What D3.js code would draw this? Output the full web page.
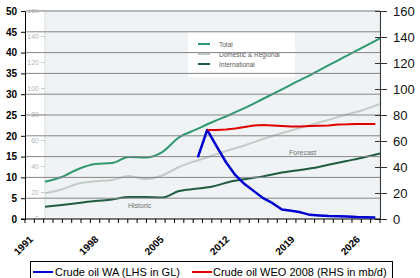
<!DOCTYPE html>
<html>
<head>
<meta charset="utf-8">
<script src="https://cdn.jsdelivr.net/npm/d3@7"></script>
<style>
  body { margin: 0; background: #fff; }
  svg { display: block; font-family: "Liberation Sans", Arial, sans-serif; }
</style>
</head>
<body>
<script>
// categories of the excel chart
var years = [1991, 1992, 1993, 1994, 1995, 1996, 1997, 1998, 1999, 2000,
  2001, 2002, 2003, 2004, 2005, 2006, 2007, 2008, 2009, 2010,
  2011, 2012, 2013, 2014, 2015, 2016, 2017, 2018, 2019, 2020,
  2021, 2022, 2023, 2024, 2025, 2026, 2027, 2028];
var labelYears = [1991, 1998, 2005, 2012, 2019, 2026];

// crude oil WA (LHS, GL)
var waYears = [2009, 2010, 2011, 2012, 2013, 2014, 2015, 2016, 2017, 2018,
  2019, 2020, 2021, 2022, 2023, 2024, 2025, 2026, 2027, 2028];
var waValues = [14.8, 21.4, 17.5, 13.7, 10.6, 8.4, 6.7, 5.0, 3.8, 2.3,
  2.0, 1.6, 1.0, 0.85, 0.7, 0.65, 0.6, 0.5, 0.45, 0.35];

// crude oil WEO 2008 (RHS, mb/d)
var weoYears = [2010, 2011, 2012, 2013, 2014, 2015, 2016, 2017, 2018, 2019,
  2020, 2021, 2022, 2023, 2024, 2025, 2026, 2027, 2028];
var weoValues = [68.5, 68.5, 68.8, 69.6, 70.8, 71.9, 72.3, 71.9, 71.5, 71.2,
  71.2, 71.5, 71.8, 71.9, 72.7, 72.8, 73.1, 73.1, 73.1];

var leftTicks = [0, 5, 10, 15, 20, 25, 30, 35, 40, 45, 50];
var rightTicks = [0, 20, 40, 60, 80, 100, 120, 140, 160];

// background picture (passenger chart)
var bgYears = [1990, 1992, 1994, 1996, 1998, 2000, 2002, 2004, 2006, 2008,
  2010, 2012, 2014, 2016, 2018, 2020, 2022, 2024, 2026, 2028, 2030];
var totalValues = [28.7, 32.3, 38.5, 42.3, 43.1, 47.7, 47.3, 51.5, 62.8, 68.7,
  74.6, 80, 85.8, 92.3, 98.8, 105.4, 111.9, 118.8, 125.4, 132.3, 139];
var domesticValues = [19.8, 22.7, 27.3, 29, 30, 33.1, 30.8, 33.5, 40, 44.6,
  48.8, 53.1, 56.9, 61.5, 65.5, 69.2, 72.9, 76.6, 80.4, 83.9, 88.5];
var internationalValues = [9.5, 10.8, 12.3, 13.8, 15, 16.9, 16.9, 16.5, 21.5, 23.2,
  25, 28.5, 30.8, 32.8, 35.4, 37.3, 39.2, 41.9, 44.6, 47.3, 50.4];
var bgLegend = ["Total", "Domestic & Regional", "International"];
var bgColors = ["#2f9970", "#c2ccc6", "#1f5c42"];

var w = 420, h = 278;
var svg = d3.select("body").append("svg").attr("width", w).attr("height", h);

var x = d3.scaleBand().domain(years).range([25, 380]).padding(0);
var yL = d3.scaleLinear().domain([0, 50]).range([219, 11]);
var yR = d3.scaleLinear().domain([0, 160]).range([219, 11]);
var xBg = d3.scaleLinear().domain([1990, 2030]).range([45, 380]);
function cx(d) { return x(d) + x.bandwidth() / 2; }

// background picture
svg.append("clipPath").attr("id", "bgclip")
  .append("rect").attr("x", 25).attr("y", 9).attr("width", 355).attr("height", 210);
var bg = svg.append("g").attr("clip-path", "url(#bgclip)");
bg.append("rect").attr("x", 45).attr("y", 11).attr("width", 335).attr("height", 208)
  .attr("fill", "#eff3f5").attr("stroke", "#cfd5d8").attr("stroke-width", 0.8);
bg.append("rect").attr("x", 188).attr("y", 32).attr("width", 107).attr("height", 45)
  .attr("fill", "#fff");

var innerAxis = d3.axisLeft(yR).tickValues(rightTicks).tickSize(4).tickPadding(2);
var ia = bg.append("g").attr("transform", "translate(45,-1)").call(innerAxis);
ia.select(".domain").remove();
ia.selectAll("line").attr("stroke", "#c8cccf");
ia.selectAll("text").attr("fill", "#b3b6b8").attr("font-size", 7).attr("font-family", "Liberation Sans, Arial");

var bgSeries = [totalValues, domesticValues, internationalValues];
var bgLine = d3.line().x(function (d, i) { return xBg(bgYears[i]); }).y(function (d) { return yR(d); })
  .curve(d3.curveMonotoneX);
bg.selectAll("path.bg").data(bgSeries).enter().append("path")
  .attr("class", "bg")
  .attr("d", bgLine)
  .attr("fill", "none")
  .attr("stroke", function (d, i) { return bgColors[i]; })
  .attr("stroke-width", 2);

bgLegend.forEach(function (t, i) {
  bg.append("line").attr("x1", 198).attr("x2", 210)
    .attr("y1", 44 + i * 10).attr("y2", 44 + i * 10)
    .attr("stroke", bgColors[i]).attr("stroke-width", 2);
  bg.append("text").attr("x", 219).attr("y", 46.5 + i * 10)
    .attr("font-size", 6.5).attr("fill", "#5a5a5a").text(t);
});
bg.append("text").attr("x", 128).attr("y", 208).attr("font-size", 7).attr("fill", "#707070").text("Historic");
bg.append("text").attr("x", 289).attr("y", 155).attr("font-size", 7).attr("fill", "#707070").text("Forecast");

// gridlines
svg.append("g").selectAll("line").data(leftTicks.slice(1)).enter().append("line")
  .attr("x1", 25).attr("x2", 380)
  .attr("y1", function (d) { return yL(d); }).attr("y2", function (d) { return yL(d); })
  .attr("stroke", "#858585").attr("stroke-width", 1);

// left axis
var axL = svg.append("g").attr("transform", "translate(25,0)")
  .call(d3.axisLeft(yL).tickValues(leftTicks).tickSize(4).tickPadding(4).tickSizeOuter(0));
axL.selectAll("text").attr("font-size", 10).attr("font-weight", "bold").attr("fill", "#000")
  .attr("font-family", "Liberation Sans, Arial");
axL.selectAll("line, path").attr("stroke", "#000");

// right axis
var axR = svg.append("g").attr("transform", "translate(380,0)")
  .call(d3.axisRight(yR).tickValues(rightTicks).tickSize(7).tickPadding(6).tickSizeOuter(0));
axR.selectAll(".tick line").attr("x1", -5);
axR.selectAll("text").attr("font-size", 13).attr("fill", "#111")
  .attr("font-family", "Liberation Sans, Arial");
axR.selectAll("line, path").attr("stroke", "#333");

// bottom axis
var axB = svg.append("g").attr("transform", "translate(0,219)");
axB.append("line").attr("x1", 21).attr("x2", 380).attr("stroke", "#000");
axB.selectAll("line.tk").data(years.concat(["end"])).enter().append("line")
  .attr("class", "tk")
  .attr("x1", function (d) { return d === "end" ? 380 : x(d); })
  .attr("x2", function (d) { return d === "end" ? 380 : x(d); })
  .attr("y1", 0).attr("y2", 4)
  .attr("stroke", "#000");
axB.selectAll("text").data(labelYears).enter().append("text")
  .attr("transform", function (d) { return "translate(" + (cx(d) + 4) + ",21) rotate(-45)"; })
  .attr("text-anchor", "end")
  .attr("font-size", 10).attr("font-weight", "bold")
  .text(function (d) { return d; });

// data lines
var waLine = d3.line().x(function (d, i) { return cx(waYears[i]); }).y(function (d) { return yL(d); });
svg.append("path").attr("d", waLine(waValues))
  .attr("fill", "none").attr("stroke", "#0000d0").attr("stroke-width", 2.5).attr("stroke-linejoin", "round");
var weoLine = d3.line().x(function (d, i) { return cx(weoYears[i]); }).y(function (d) { return yR(d); });
svg.append("path").attr("d", weoLine(weoValues))
  .attr("fill", "none").attr("stroke", "#e00000").attr("stroke-width", 2);

// legend
var lg = svg.append("g");
lg.append("rect").attr("x", 30.5).attr("y", 261.5).attr("width", 362).attr("height", 20)
  .attr("fill", "#fff").attr("stroke", "#000").attr("stroke-width", 1);
lg.append("line").attr("x1", 33).attr("x2", 53).attr("y1", 272).attr("y2", 272)
  .attr("stroke", "#0000d0").attr("stroke-width", 2);
lg.append("text").attr("x", 55).attr("y", 276).attr("font-size", 11).text("Crude oil WA (LHS in GL)");
lg.append("line").attr("x1", 192).attr("x2", 212).attr("y1", 272).attr("y2", 272)
  .attr("stroke", "#e00000").attr("stroke-width", 2);
lg.append("text").attr("x", 213).attr("y", 276).attr("font-size", 11).text("Crude oil WEO 2008 (RHS in mb/d)");
</script>
</body>
</html>
